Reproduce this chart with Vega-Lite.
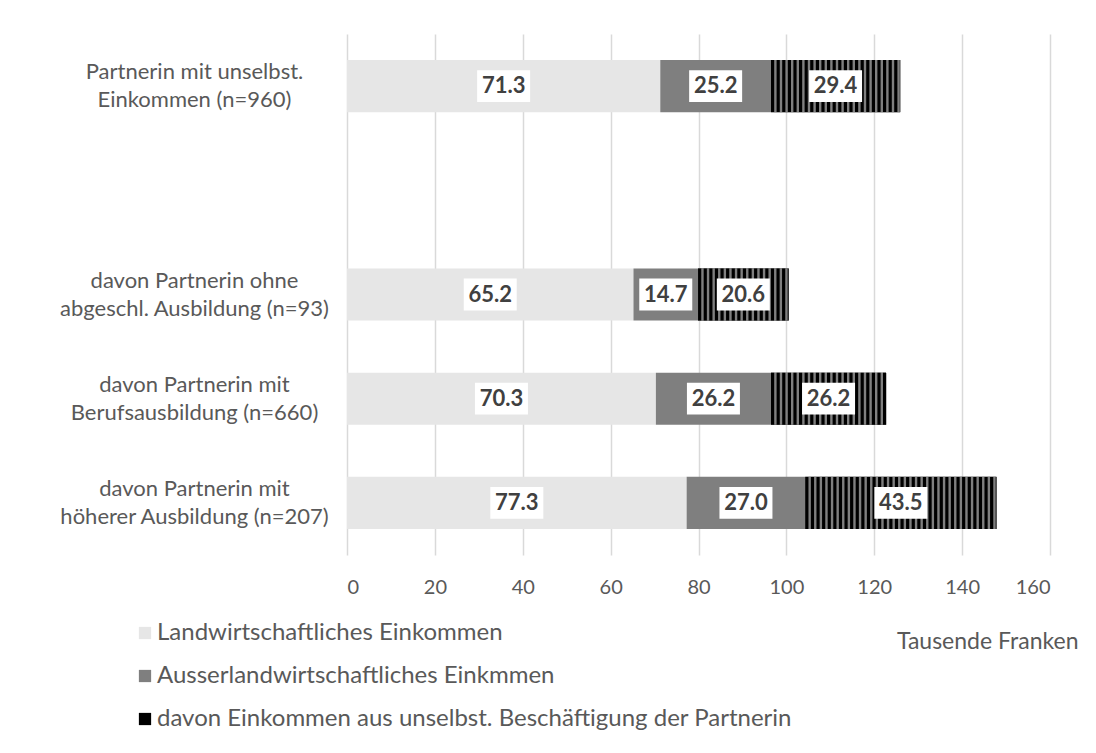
{
  "$schema": "https://vega.github.io/schema/vega-lite/v6.json",
  "width": 703,
  "height": 521,
  "autosize": {"type": "none"},
  "padding": {"left": 347, "top": 34, "right": 46, "bottom": 198},
  "background": "white",
  "config": {"view": {"stroke": null}, "font": "Lato"},
  "data": {
    "values": [
      {"cat": "Partnerin mit unselbst.|Einkommen (n=960)", "series": "Landwirtschaftliches Einkommen", "value": 71.3},
      {"cat": "Partnerin mit unselbst.|Einkommen (n=960)", "series": "Ausserlandwirtschaftliches Einkmmen", "value": 25.2},
      {"cat": "Partnerin mit unselbst.|Einkommen (n=960)", "series": "davon Einkommen aus unselbst. Beschäftigung der Partnerin", "value": 29.4},
      {"cat": "davon Partnerin ohne|abgeschl. Ausbildung (n=93)", "series": "Landwirtschaftliches Einkommen", "value": 65.2},
      {"cat": "davon Partnerin ohne|abgeschl. Ausbildung (n=93)", "series": "Ausserlandwirtschaftliches Einkmmen", "value": 14.7},
      {"cat": "davon Partnerin ohne|abgeschl. Ausbildung (n=93)", "series": "davon Einkommen aus unselbst. Beschäftigung der Partnerin", "value": 20.6},
      {"cat": "davon Partnerin mit|Berufsausbildung (n=660)", "series": "Landwirtschaftliches Einkommen", "value": 70.3},
      {"cat": "davon Partnerin mit|Berufsausbildung (n=660)", "series": "Ausserlandwirtschaftliches Einkmmen", "value": 26.2},
      {"cat": "davon Partnerin mit|Berufsausbildung (n=660)", "series": "davon Einkommen aus unselbst. Beschäftigung der Partnerin", "value": 26.2},
      {"cat": "davon Partnerin mit|höherer Ausbildung (n=207)", "series": "Landwirtschaftliches Einkommen", "value": 77.3},
      {"cat": "davon Partnerin mit|höherer Ausbildung (n=207)", "series": "Ausserlandwirtschaftliches Einkmmen", "value": 27.0},
      {"cat": "davon Partnerin mit|höherer Ausbildung (n=207)", "series": "davon Einkommen aus unselbst. Beschäftigung der Partnerin", "value": 43.5}
    ]
  },
  "transform": [
    {"calculate": "indexof(['Landwirtschaftliches Einkommen','Ausserlandwirtschaftliches Einkmmen','davon Einkommen aus unselbst. Beschäftigung der Partnerin'], datum.series)", "as": "k"},
    {"stack": "value", "groupby": ["cat"], "sort": [{"field": "k", "order": "ascending"}], "as": ["x0", "x1"]},
    {"calculate": "(datum.x0 + datum.x1) / 2", "as": "mid"}
  ],
  "encoding": {
    "y": {
      "field": "cat",
      "type": "nominal",
      "scale": {
        "domain": [
          "Partnerin mit unselbst.|Einkommen (n=960)",
          "gap",
          "davon Partnerin ohne|abgeschl. Ausbildung (n=93)",
          "davon Partnerin mit|Berufsausbildung (n=660)",
          "davon Partnerin mit|höherer Ausbildung (n=207)"
        ],
        "paddingInner": 0.5,
        "paddingOuter": 0.25
      },
      "axis": {
        "title": null,
        "domain": false,
        "ticks": false,
        "grid": false,
        "labelAlign": "center",
        "labelPadding": 153,
        "labelOffset": -14,
        "labelFontSize": 22,
        "labelColor": "#595959",
        "labelLineHeight": 28,
        "labelLimit": 400,
        "labelFont": "Lato",
        "labelExpr": "datum.value == 'gap' ? '' : split(datum.value, '|')"
      }
    }
  },
  "layer": [
    {
      "mark": {"type": "bar", "strokeWidth": 0},
      "encoding": {
        "x": {
          "field": "x0",
          "type": "quantitative",
          "scale": {"domain": [0, 160], "nice": false},
          "axis": {
            "values": [0, 20, 40, 60, 80, 100, 120, 140, 160],
            "grid": true,
            "gridColor": "#d9d9d9",
            "gridWidth": 1.5,
            "domain": false,
            "ticks": false,
            "labelFontSize": 20,
            "labelColor": "#595959",
            "labelPadding": 22,
            "labelFont": "Lato",
            "title": "Tausende Franken",
            "titleFont": "Lato",
            "titleFontSize": 23,
            "titleFontWeight": "normal",
            "titleColor": "#595959",
            "titleAnchor": "end",
            "titleAlign": "right",
            "titleBaseline": "middle",
            "titleX": 731,
            "titleY": 86
          }
        },
        "x2": {"field": "x1"},
        "color": {
          "field": "series",
          "type": "nominal",
          "scale": {
            "domain": [
              "Landwirtschaftliches Einkommen",
              "Ausserlandwirtschaftliches Einkmmen",
              "davon Einkommen aus unselbst. Beschäftigung der Partnerin"
            ],
            "range": ["#e6e6e6", "#7f7f7f", "#000000"]
          },
          "legend": {
            "orient": "none",
            "legendX": -214,
            "legendY": 587,
            "title": null,
            "direction": "vertical",
            "padding": 0,
            "symbolType": "square",
            "symbolSize": 150,
            "symbolStrokeWidth": 0,
            "labelFont": "Lato",
            "labelFontSize": 24,
            "labelColor": "#595959",
            "labelOffset": 0,
            "labelLimit": 900,
            "rowPadding": 19,
            "labelExpr": "datum.value == 'davon Einkommen aus unselbst. Beschäftigung der Partnerin' ? '\u2003' + datum.value : datum.value"
          }
        }
      }
    },
    {
      "transform": [{"filter": "datum.k == 2"}],
      "mark": {"type": "bar", "fill": "#808080", "strokeWidth": 0},
      "encoding": {
        "x": {"field": "x0", "type": "quantitative"},
        "x2": {"field": "x1"}
      }
    },
    {
      "transform": [{"filter": "datum.k == 2"}],
      "mark": {"type": "rule", "stroke": "#000000", "strokeWidth": 52, "strokeDash": [3.2, 2.4], "strokeCap": "butt"},
      "encoding": {
        "x": {"field": "x0", "type": "quantitative"},
        "x2": {"field": "x1"}
      }
    },
    {
      "mark": {"type": "point", "shape": "M-1,-0.6H1V0.6H-1Z", "filled": true, "fill": "#ffffff", "opacity": 1, "size": 2809, "strokeWidth": 0},
      "encoding": {
        "x": {"field": "mid", "type": "quantitative"}
      }
    },
    {
      "mark": {"type": "text", "font": "Lato", "fontWeight": "bold", "fontSize": 22, "color": "#404040", "baseline": "middle", "align": "center"},
      "encoding": {
        "x": {"field": "mid", "type": "quantitative"},
        "text": {"field": "value", "type": "quantitative", "format": ".1f"}
      }
    }
  ]
}
